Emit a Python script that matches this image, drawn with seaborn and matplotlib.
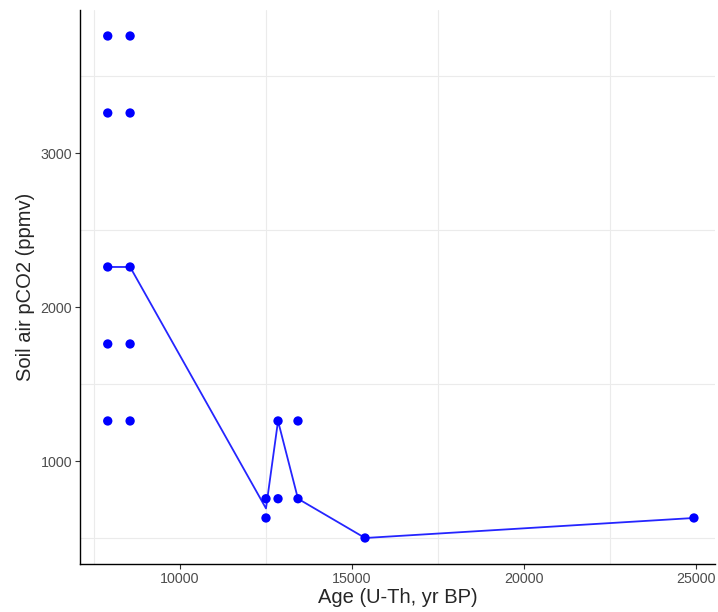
import seaborn as sns
import matplotlib.pyplot as plt
import pandas as pd

# measured points (age, pCO2)
age = [7900, 7900, 7900, 7900, 7900,
       8550, 8550, 8550, 8550, 8550,
       12500, 12500, 12850, 12850, 13430, 13430,
       15380, 24940]
pco2 = [3760, 3260, 2260, 1760, 1260,
        3760, 3260, 2260, 1760, 1260,
        755, 630, 1260, 755, 1260, 755,
        500, 630]

# connecting line
line_age = [7900, 8550, 12500, 12850, 13430, 15380, 24940]
line_pco2 = [2260, 2260, 692, 1260, 755, 500, 630]

pts = pd.DataFrame({"age": age, "pco2": pco2})
ln = pd.DataFrame({"age": line_age, "pco2": line_pco2})

sns.set_style("white")
plt.rcParams['font.family'] = ['Liberation Sans', 'DejaVu Sans']

fig = plt.figure(figsize=(7.18, 6.12), dpi=100)
ax = fig.add_axes([0.1114, 0.0784, 0.8844, 0.9053])

sns.lineplot(data=ln, x="age", y="pco2", sort=False, estimator=None,
             color="#2525ff", linewidth=1.3, ax=ax, zorder=3)
sns.scatterplot(data=pts, x="age", y="pco2", color="#0000ff", s=45,
                edgecolor="none", ax=ax, zorder=4)

ax.set_xlim(7093, 25552)
ax.set_ylim(331, 3929)

ax.set_xticks([10000, 15000, 20000, 25000])
ax.set_yticks([1000, 2000, 3000])
ax.set_xticks([7500, 12500, 17500, 22500], minor=True)
ax.set_yticks([500, 1500, 2500, 3500], minor=True)
ax.grid(False, which='major')
ax.grid(True, which='minor', color='#ebebeb', linewidth=0.8)
ax.set_axisbelow(True)

ax.tick_params(which='minor', length=0, bottom=False, left=False)
ax.tick_params(which='major', bottom=True, left=True, length=3.5, width=0.8,
               color='#333333', labelsize=10.3, labelcolor='#4d4d4d', pad=2)

for s in ['top', 'right']:
    ax.spines[s].set_visible(False)
for s in ['left', 'bottom']:
    ax.spines[s].set_color('black')
    ax.spines[s].set_linewidth(1.0)

ax.set_xlabel("Age (U-Th, yr BP)", fontsize=14.5, labelpad=2)
ax.set_ylabel("Soil air pCO2 (ppmv)", fontsize=14.5, labelpad=4)

fig.savefig("out.png", dpi=100)
